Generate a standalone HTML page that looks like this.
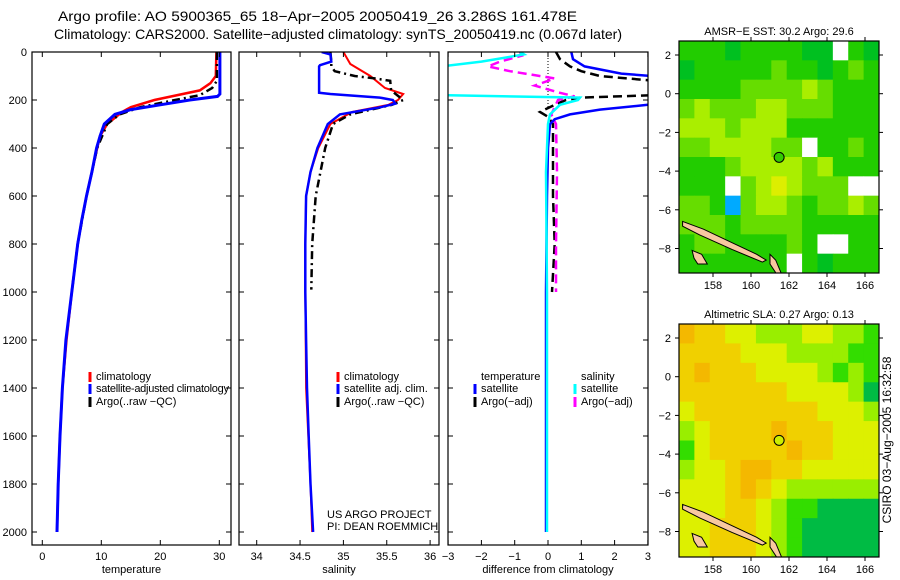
<!DOCTYPE html>
<html><head><meta charset="utf-8"><style>
html,body{margin:0;padding:0;background:#fff;}
svg{display:block;font-family:"Liberation Sans",sans-serif;}
</style></head><body>
<svg id="fig" width="900" height="580" viewBox="0 0 900 580">
<text x="58" y="21" font-size="14" textLength="519" lengthAdjust="spacingAndGlyphs">Argo profile: AO 5900365_65 18−Apr−2005 20050419_26 3.286S 161.478E</text>
<text x="54" y="39" font-size="14" textLength="568" lengthAdjust="spacingAndGlyphs">Climatology: CARS2000. Satellite−adjusted climatology: synTS_20050419.nc (0.067d later)</text>
<defs>
<clipPath id="c1"><rect x="32" y="52" width="199" height="493"/></clipPath>
<clipPath id="c2"><rect x="239" y="52" width="200" height="493"/></clipPath>
<clipPath id="c3"><rect x="448" y="52" width="200" height="493"/></clipPath>
<clipPath id="cm1"><rect x="679" y="41" width="200" height="232"/></clipPath>
<clipPath id="cm2"><rect x="679" y="324" width="200" height="233"/></clipPath>
</defs>
<g id="p1" clip-path="url(#c1)"></g>
<g id="p2" clip-path="url(#c2)"></g>
<g id="p3" clip-path="url(#c3)"></g>
<g id="m1" clip-path="url(#cm1)"></g>
<g id="m2" clip-path="url(#cm2)"></g>
<g id="axes"></g>
<text x="891" y="440" font-size="12" text-anchor="middle" transform="rotate(-90 891 440)">CSIRO 03−Aug−2005 16:32:58</text>
<text x="327" y="518" font-size="11">US ARGO PROJECT</text>
<text x="327" y="530" font-size="11">PI: DEAN ROEMMICH</text>
<text x="779" y="35" font-size="11" text-anchor="middle">AMSR−E SST: 30.2 Argo: 29.6</text>
<text x="779" y="318" font-size="11" text-anchor="middle">Altimetric SLA: 0.27 Argo: 0.13</text>
</svg>
<script>
// ---- temperature panel data ----
const tClimDepth=[0,100,130,160,200,230,250,300,350,400,500,600,700,800,1000,1200,1400,1600,1800,2000];
const tClimVal=[29.5,29.4,28.5,26.7,19,15,13.5,11,9.8,9.3,8.4,7.5,6.7,6,5,4.1,3.4,3.0,2.7,2.5];
const tSatDepth=[0,175,185,200,220,240,260,300,350,400,500,600,700,800,1000,1200,1400,1600,1800,2000];
const tSatVal=[30.1,30.1,29.7,25,20,15,12.3,10.5,9.8,9.2,8.4,7.5,6.7,6,5,4.0,3.4,3.0,2.7,2.5];
const tArgoDepth=[0,120,150,180,200,230,260,300,400,500,600,800,1000];
const tArgoVal=[29.6,29.6,28.8,26.7,22.5,16.6,13.1,11,9.3,8.4,7.5,6,5];
// ---- salinity panel data ----
const sClimDepth=[0,50,100,150,175,200,220,250,300,400,500,600,800,1000,1400,1800,2000];
const sClimVal=[35.0,35.08,35.31,35.48,35.69,35.63,35.52,35.1,34.85,34.71,34.62,34.57,34.56,34.56,34.57,34.62,34.64];
const sSatDepth=[0,10,40,55,60,170,175,190,200,215,230,260,300,400,500,600,800,1000,1200,1400,1600,1800,2000];
const sSatVal=[34.75,34.85,34.86,34.73,34.72,34.72,34.85,35.42,35.57,35.6,35.43,34.96,34.82,34.7,34.62,34.57,34.56,34.56,34.57,34.58,34.6,34.62,34.65];
const sArgoDepth=[0,40,60,80,100,110,120,160,200,220,260,300,400,600,800,990];
const sArgoVal=[34.85,34.86,34.86,34.9,35.13,35.36,35.54,35.55,35.69,35.56,35.08,34.88,34.79,34.68,34.64,34.63];
// ---- difference panel data ----
const dTSatDepth=[0,30,60,90,100,120,200,220,240,260,280,300,400,600,1000,1500,2000];
const dTSatVal=[0.7,0.75,1.1,2.2,3.1,3.5,3.5,3.0,1.56,0.66,0.2,0.06,0,-0.03,-0.06,-0.06,-0.06];
const dTArgoDepth=[0,30,60,80,100,120,180,190,200,220,250,270,300,400,600,800,1000];
const dTArgoVal=[0.24,0.36,0.66,1.0,1.56,3.2,3.2,0.96,0.54,0.2,-0.24,0,0.15,0.15,0.15,0.2,0.12];
const dSSatDepth=[0,10,20,40,60,170,180,190,200,220,260,300,500,1000,2000];
const dSSatVal=[-0.84,-0.72,-1.14,-2.0,-3.2,-3.2,-3.1,0.96,0.9,0.36,0.06,0,-0.06,-0.03,-0.03];
const dSArgoDepth=[0,15,40,60,80,110,140,170,185,200,260,300,500,800,1000];
const dSArgoVal=[-0.84,-0.78,-1.44,-1.8,-1.14,0.2,-0.4,0.36,0.8,0.3,0.1,0.24,0.27,0.24,0.24];
// ---- axis tick labels ----
const depthTicks=[0,200,400,600,800,1000,1200,1400,1600,1800,2000];
const tempTicks=[0,10,20,30];
const salTicks=[34,34.5,35,35.5,36];
const diffTicks=[-3,-2,-1,0,1,2,3];
const lonTicks=[158,160,162,164,166];
const latTicks=[2,0,-2,-4,-6,-8];
// ---- map grids (lat rows top->bottom, lon cols west->east) ----
const sstGrid=[
[2,2,2,1,2,2,2,2,1,1,0,2,1],
[1,2,2,2,2,2,3,2,2,1,2,3,2],
[2,2,2,2,3,3,3,3,4,3,2,2,2],
[3,4,3,3,3,4,4,3,3,3,2,2,2],
[4,4,4,3,4,4,4,2,2,2,2,2,2],
[3,3,4,4,4,4,3,3,0,2,2,3,2],
[2,2,2,3,4,4,4,4,3,4,2,2,2],
[2,2,2,0,3,4,5,4,3,3,3,0,0],
[3,3,2,6,3,4,4,3,2,3,3,4,3],
[3,3,3,2,3,3,3,3,2,2,2,2,2],
[2,3,3,2,2,2,2,3,2,0,0,2,2],
[2,2,2,2,2,2,2,0,2,1,2,2,2]];
const slaGrid=[
[6,5,5,4,4,3,3,3,4,4,3,3,2],
[5,5,5,5,4,4,4,3,3,3,3,2,2],
[5,6,5,5,5,4,4,4,4,3,2,3,2],
[5,5,5,5,5,5,5,4,4,4,4,3,1],
[4,5,5,5,5,5,5,5,5,4,4,4,3],
[3,4,5,5,5,5,6,5,5,5,4,4,4],
[2,4,5,5,5,5,5,6,5,5,4,4,4],
[3,4,4,5,6,6,5,5,4,4,4,4,4],
[4,4,4,5,6,5,4,3,3,3,3,3,3],
[4,4,4,5,5,4,3,2,2,1,1,1,1],
[4,4,5,5,5,4,3,2,1,1,1,1,1],
[4,4,5,5,5,4,3,2,1,1,1,1,1]];
const argoLon=161.48, argoLat=-3.29;

const NS='http://www.w3.org/2000/svg';
function mk(tag,attrs,parent){const e=document.createElementNS(NS,tag);for(const k in attrs)e.setAttribute(k,attrs[k]);parent.appendChild(e);return e;}
const yD=d=>52+0.24*d;
const xT=t=>42.3+5.9*t;
const xS=s=>256.7+86.7*(s-34);
const xDf=v=>548+33.3*v;
function line(g,depths,vals,xf,color,w,dash,name){
  const pts=depths.map((d,i)=>xf(vals[i]).toFixed(1)+','+yD(d).toFixed(1)).join(' ');
  const p=mk('polyline',{points:pts,fill:'none',stroke:color,'stroke-width':w},g);
  if(dash)p.setAttribute('stroke-dasharray',dash);
  
  
}
const p1=document.getElementById('p1'),p2=document.getElementById('p2'),p3=document.getElementById('p3');
line(p1,tClimDepth,tClimVal,xT,'#ff0000',2.5,null,'temp-climatology-line');
line(p1,tArgoDepth,tArgoVal,xT,'#000',2.5,'8,4,2,4','temp-argo-line');
line(p1,tSatDepth,tSatVal,xT,'#0000ff',3,null,'temp-satellite-line');
line(p2,sClimDepth,sClimVal,xS,'#ff0000',2,null,'sal-climatology-line');
line(p2,sArgoDepth,sArgoVal,xS,'#000',2.5,'8,4,2,4','sal-argo-line');
line(p2,sSatDepth,sSatVal,xS,'#0000ff',2.5,null,'sal-satellite-line');
mk('line',{x1:548,y1:52,x2:548,y2:yD(230),stroke:'#000','stroke-dasharray':'1,2'},p3);
line(p3,dTArgoDepth,dTArgoVal,xDf,'#000',2.5,'9,5','diff-temp-argo-line');
line(p3,dSArgoDepth,dSArgoVal,xDf,'#ff00ff',2.5,'9,5','diff-sal-argo-line');
line(p3,dTSatDepth,dTSatVal,xDf,'#0000ff',2.5,null,'diff-temp-satellite-line');
line(p3,dSSatDepth,dSSatVal,xDf,'#00ffff',2.5,null,'diff-sal-satellite-line');

const ax=document.getElementById('axes');
function txt(x,y,s,anchor,size,parent,name){const t=mk('text',{x:x,y:y,'font-size':size||11,'text-anchor':anchor||'middle'},parent||ax);t.textContent=s;return t;}
function frame(x0,x1,y0,y1,name){const r=mk('rect',{x:x0,y:y0,width:x1-x0,height:y1-y0,fill:'none',stroke:'#000','stroke-width':1.2},ax);}
const panels=[[32,231,tempTicks,xT,'temperature'],[239,439,salTicks,xS,'salinity'],[448,648,diffTicks,xDf,'difference from climatology']];
panels.forEach((p,i)=>{
  frame(p[0],p[1],52,545,'profile-panel-'+(i+1));
  depthTicks.forEach(d=>{const y=yD(d);
    mk('line',{x1:p[0],y1:y,x2:p[0]+5,y2:y,stroke:'#000'},ax);
    mk('line',{x1:p[1]-5,y1:y,x2:p[1],y2:y,stroke:'#000'},ax);
    if(i===0)txt(27,y+4,String(d),'end',11,ax,'depth-tick-label');
  });
  p[2].forEach(v=>{const x=p[3](v);
    mk('line',{x1:x,y1:545,x2:x,y2:540,stroke:'#000'},ax);
    mk('line',{x1:x,y1:52,x2:x,y2:57,stroke:'#000'},ax);
    txt(x,560,String(v).replace('-','−'),'middle',11,ax,'x-tick-label');
  });
  txt((p[0]+p[1])/2,573,p[4],'middle',11,ax,'x-axis-title-'+(i+1));
});
function legItem(x,y,color,label,name){mk('rect',{x:x-1.5,y:y-8,width:3,height:10,fill:color},ax);const t=txt(x+6,y,label,'start',11,ax,name);return t;}
legItem(90,380,'#ff0000','climatology','legend-climatology');
legItem(90,392,'#0000ff','satellite-adjusted climatology','legend-satellite-adjusted').setAttribute('textLength','133');
legItem(90,405,'#000','Argo(..raw −QC)','legend-argo');
legItem(338,380,'#ff0000','climatology','legend-sal-climatology');
legItem(338,392,'#0000ff','satellite adj. clim.','legend-sal-satellite');
legItem(338,405,'#000','Argo(..raw −QC)','legend-sal-argo');
txt(481,380,'temperature','start',11,ax,'legend-temperature-header');
legItem(475,392,'#0000ff','satellite','legend-diff-temp-satellite');
legItem(475,405,'#000','Argo(−adj)','legend-diff-temp-argo');
txt(581,380,'salinity','start',11,ax,'legend-salinity-header');
legItem(575,392,'#00ffff','satellite','legend-diff-sal-satellite');
legItem(575,405,'#ff00ff','Argo(−adj)','legend-diff-sal-argo');

// ---- maps ----
const sstColors=['#ffffff','#00c020','#22cc00','#66dd00','#aaee00','#ddee00','#00aaff'];
const slaColors=['#ffffff','#00bb44','#33dd00','#99ee00','#ddf000','#f0d000','#f4b800'];
function drawMap(gid,grid,colors,top,lat2y,name){
  const g=document.getElementById(gid);
  const x0=679,x1=879,y1=top===41?273:557;
  const lonX=l=>713+19*(l-158);
  const latY=l=>lat2y+19.35*(2-l);
  const rows=grid.length,cols=grid[0].length;
  const cw=(x1-x0)/cols,ch=(y1-top)/rows;
  grid.forEach((r,i)=>r.forEach((v,j)=>{const c=mk('rect',{x:x0+j*cw,y:top+i*ch,width:cw+0.5,height:ch+0.5,fill:colors[v]},g);}));
  const land=[[[156.4,-6.6],[157.5,-7.0],[159,-7.7],[160.3,-8.3],[160.8,-8.6],[160.6,-8.7],[159,-8.05],[157.3,-7.3],[156.4,-6.85]],
              [[161.0,-8.3],[161.3,-8.6],[161.6,-9.3],[161.4,-9.4],[161.0,-8.8]],
              [[156.9,-8.1],[157.4,-8.3],[157.7,-8.8],[157.2,-8.8],[157.0,-8.5]]];
  land.forEach(poly=>{const p=mk('polygon',{points:poly.map(q=>lonX(q[0])+','+latY(q[1])).join(' '),fill:'#f8c8a0',stroke:'#000','stroke-width':1},g);});
  const m=mk('circle',{cx:lonX(argoLon),cy:latY(argoLat),r:5,fill:top===41?'#33cc00':'#ccee00',stroke:'#000','stroke-width':1},ax);
  
  frame(x0,x1,top,y1,name+'-frame');
  latTicks.forEach(l=>{const y=latY(l);mk('line',{x1:x0-4,y1:y,x2:x0,y2:y,stroke:'#000'},ax);mk('line',{x1:x1,y1:y,x2:x1+4,y2:y,stroke:'#000'},ax);txt(x0-8,y+4,String(l).replace('-','−'),'end',11,ax,'lat-tick-label');});
  lonTicks.forEach(l=>{const x=lonX(l);mk('line',{x1:x,y1:y1,x2:x,y2:y1+4,stroke:'#000'},ax);mk('line',{x1:x,y1:top-4,x2:x,y2:top,stroke:'#000'},ax);txt(x,y1+16,String(l),'middle',11,ax,'lon-tick-label');});
}
drawMap('m1',sstGrid,sstColors,41,55,'sst-map');
drawMap('m2',slaGrid,slaColors,324,338,'sla-map');
</script>
</body></html>
